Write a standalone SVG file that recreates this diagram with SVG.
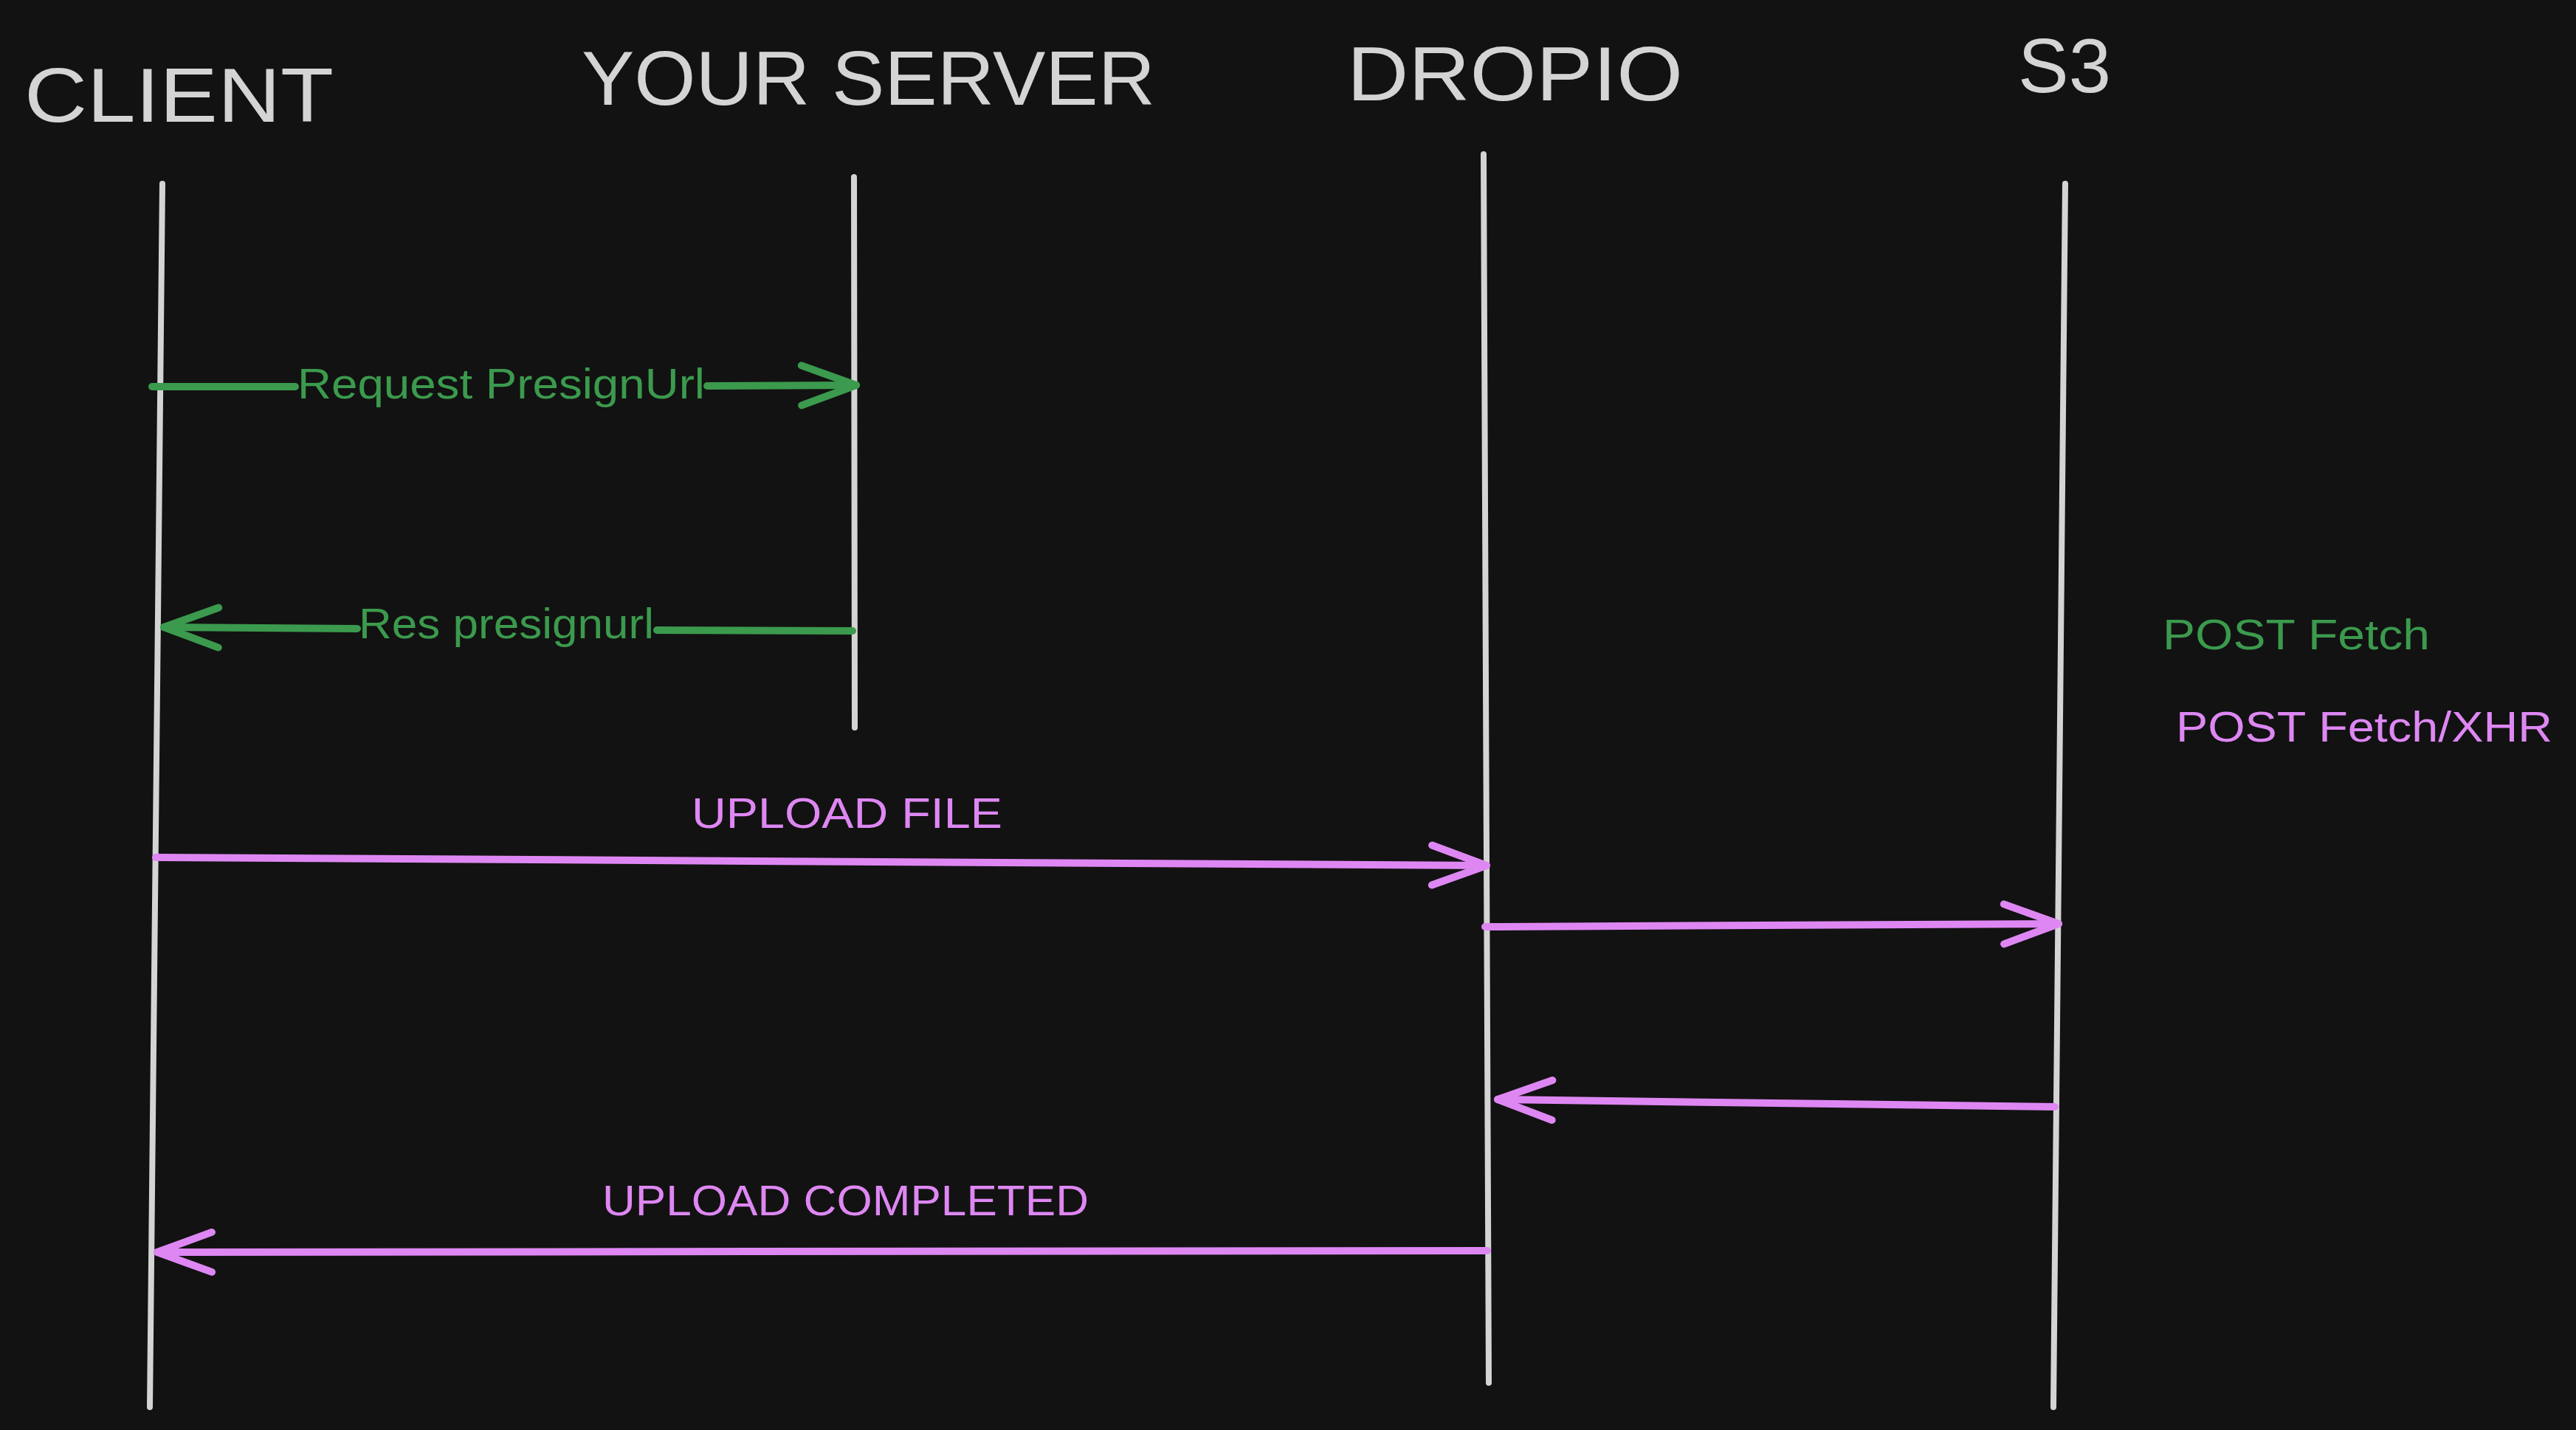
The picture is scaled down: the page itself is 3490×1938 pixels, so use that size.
<svg xmlns="http://www.w3.org/2000/svg" width="3490" height="1938" viewBox="0 0 3490 1938">
<style>
.title{font-family:"Liberation Sans",Arial,sans-serif;font-size:104px;fill:#d4d4d4}
.lbl{font-family:"Liberation Sans",Arial,sans-serif;font-size:58px}
.g{fill:#3b9a4d}
.p{fill:#de87f3}
.life{stroke:#d4d4d4;stroke-width:8;fill:none;stroke-linecap:round}
.ag{stroke:#3b9a4d;stroke-width:10;fill:none;stroke-linecap:round;stroke-linejoin:round}
.ap{stroke:#de87f3;stroke-width:10;fill:none;stroke-linecap:round;stroke-linejoin:round}
</style>
<defs>
<marker id="hg" markerUnits="userSpaceOnUse" markerWidth="90" markerHeight="70" viewBox="0 0 90 70" refX="80" refY="35" orient="auto">
<path d="M6 8 L80 35 L6 62" fill="none" stroke="#3b9a4d" stroke-width="10" stroke-linecap="round" stroke-linejoin="round"/>
</marker>
<marker id="hp" markerUnits="userSpaceOnUse" markerWidth="90" markerHeight="70" viewBox="0 0 90 70" refX="80" refY="35" orient="auto">
<path d="M6 8 L80 35 L6 62" fill="none" stroke="#de87f3" stroke-width="10" stroke-linecap="round" stroke-linejoin="round"/>
</marker>
</defs>
<rect width="3490" height="1938" fill="#121212"/>

<g id="client">
<text class="title" x="33" y="165" textLength="419" lengthAdjust="spacingAndGlyphs">CLIENT</text>
<line class="life" x1="220" y1="249" x2="203" y2="1907"/>
</g>
<g id="your-server">
<text class="title" x="788" y="142" textLength="777" lengthAdjust="spacingAndGlyphs">YOUR SERVER</text>
<line class="life" x1="1157" y1="240" x2="1158" y2="986"/>
</g>
<g id="dropio">
<text class="title" x="1825" y="136" textLength="455" lengthAdjust="spacingAndGlyphs">DROPIO</text>
<line class="life" x1="2010" y1="209" x2="2017" y2="1874"/>
</g>
<g id="s3">
<text class="title" x="2734" y="125" textLength="126" lengthAdjust="spacingAndGlyphs">S3</text>
<line class="life" x1="2798" y1="249" x2="2782" y2="1907"/>
</g>

<g id="notes">
<text class="lbl g" x="2930" y="880" font-size="56" textLength="362" lengthAdjust="spacingAndGlyphs">POST Fetch</text>
<text class="lbl p" x="2948" y="1005" font-size="56" textLength="510" lengthAdjust="spacingAndGlyphs">POST Fetch/XHR</text>
</g>

<g id="connectors">
<path class="ag" d="M206 524 L400 524 M958 523 L1160 522" marker-end="url(#hg)"/>
<text class="lbl g" x="403" y="540" textLength="552" lengthAdjust="spacingAndGlyphs">Request PresignUrl</text>

<path class="ag" d="M1155 855 L890 854 M484 852 L222 850" marker-end="url(#hg)"/>
<text class="lbl g" x="486" y="865" textLength="400" lengthAdjust="spacingAndGlyphs">Res presignurl</text>

<path class="ap" d="M211 1162 L2014 1173" marker-end="url(#hp)"/>
<text class="lbl p" x="937" y="1122" font-size="62" textLength="421" lengthAdjust="spacingAndGlyphs">UPLOAD FILE</text>

<path class="ap" d="M2012 1256 L2789 1252" marker-end="url(#hp)"/>

<path class="ap" d="M2784 1500 L2029 1490" marker-end="url(#hp)"/>

<path class="ap" d="M2015 1695 L213 1697" marker-end="url(#hp)"/>
<text class="lbl p" x="816" y="1647" textLength="659" lengthAdjust="spacingAndGlyphs">UPLOAD COMPLETED</text>
</g>
</svg>
